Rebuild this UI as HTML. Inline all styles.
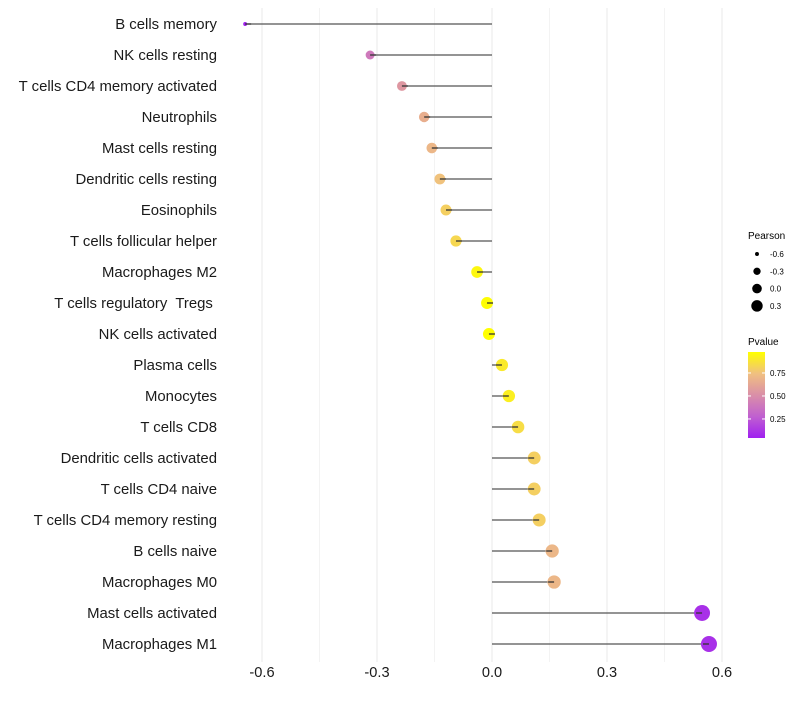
<!DOCTYPE html>
<html><head><meta charset="utf-8"><style>
body{margin:0;background:#fff;}
svg text{font-family:"Liberation Sans",sans-serif;}
</style></head><body>
<svg id="chart" width="800" height="700"></svg>
<script>
const categories=["B cells memory","NK cells resting","T cells CD4 memory activated","Neutrophils","Mast cells resting","Dendritic cells resting","Eosinophils","T cells follicular helper","Macrophages M2","T cells regulatory\u00a0 Tregs\u00a0","NK cells activated","Plasma cells","Monocytes","T cells CD8","Dendritic cells activated","T cells CD4 naive","T cells CD4 memory resting","B cells naive","Macrophages M0","Mast cells activated","Macrophages M1"];
const pearson=[-0.644,-0.318,-0.235,-0.177,-0.157,-0.136,-0.12,-0.094,-0.039,-0.013,-0.008,0.026,0.044,0.068,0.11,0.11,0.123,0.157,0.162,0.548,0.566];
const pvalue=[0.05,0.4,0.55,0.66,0.7,0.75,0.8,0.83,0.95,0.97,0.98,0.9,0.92,0.85,0.8,0.8,0.8,0.7,0.7,0.1,0.1];
const xTicks=[-0.6,-0.3,0.0,0.3,0.6];
const xTickLabels=["-0.6","-0.3","0.0","0.3","0.6"];
const sizeLegend=[-0.6,-0.3,0.0,0.3];
const colorTicks=[0.25,0.5,0.75];

const NS="http://www.w3.org/2000/svg";
const svg=document.getElementById('chart');
function mk(t,a,p){const e=document.createElementNS(NS,t);for(const k in a)e.setAttribute(k,a[k]);(p||svg).appendChild(e);return e;}
const x=v=>492+v*383.33;
const y=i=>24+i*31;
const pMin=0.043,pMax=0.978;
const stops=[[160,32,240],[192,96,208],[218,143,168],[240,192,128],[255,255,0]];
function col(p){let t=Math.max(0,Math.min(1,(p-pMin)/(pMax-pMin)))*4;let i=Math.min(3,Math.floor(t));let f=t-i;const a=stops[i],b=stops[i+1];return `rgb(${a.map((c,k)=>Math.round(c+(b[k]-c)*f)).join(',')})`;}
const rad=v=>Math.sqrt(Math.max(3,36+50*v));

for(let v=-0.6;v<=0.61;v+=0.15){const g=mk('line',{x1:x(v),x2:x(v),y1:8,y2:662,stroke:'#ebebeb','stroke-width':Math.abs(Math.round(v/0.15))%2===0?1.1:0.6});
}

categories.forEach((c,i)=>{
 const t=mk('text',{x:217,y:y(i)+5,'text-anchor':'end','font-size':14.9,fill:'#1a1a1a'});t.textContent=c;
 
 const s=mk('line',{x1:x(0),x2:x(pearson[i]),y1:y(i),y2:y(i),stroke:'#555','stroke-width':1.3});
 
 const d=mk('circle',{cx:x(pearson[i]),cy:y(i),r:rad(pearson[i]),fill:col(pvalue[i])});
 
 const s2=mk('line',{x1:x(pearson[i]),x2:x(pearson[i])+(pearson[i]<0?6:-6),y1:y(i),y2:y(i),stroke:'#333','stroke-width':1.3});
 
});
xTicks.forEach((v,i)=>{const t=mk('text',{x:x(v),y:677,'text-anchor':'middle','font-size':14.6,fill:'#1a1a1a'});t.textContent=xTickLabels[i];
 });

let lt=mk('text',{x:748,y:239,'font-size':10,fill:'#000'});lt.textContent='Pearson';

sizeLegend.forEach((v,i)=>{const cy=254+i*17.3;
 const c=mk('circle',{cx:757,cy:cy,r:rad(v)*0.8,fill:'#000'});
 const t=mk('text',{x:770,y:cy+3,'font-size':8,fill:'#000'});t.textContent=v.toFixed(1);});

lt=mk('text',{x:748,y:345,'font-size':10,fill:'#000'});lt.textContent='Pvalue';

const defs=mk('defs',{});const lg=mk('linearGradient',{id:'cg',x1:0,y1:1,x2:0,y2:0},defs);
stops.forEach((s,i)=>mk('stop',{offset:i/4,'stop-color':`rgb(${s.join(',')})`},lg));
const cb=mk('rect',{x:748,y:352,width:17,height:86,fill:'url(#cg)'});
colorTicks.forEach(p=>{const cy=438-(p-pMin)/(pMax-pMin)*86;
 mk('line',{x1:748,x2:751,y1:cy,y2:cy,stroke:'#fff'});mk('line',{x1:762,x2:765,y1:cy,y2:cy,stroke:'#fff'});
 const t=mk('text',{x:770,y:cy+3,'font-size':8,fill:'#000'});t.textContent=p.toFixed(2);});
</script></body></html>
